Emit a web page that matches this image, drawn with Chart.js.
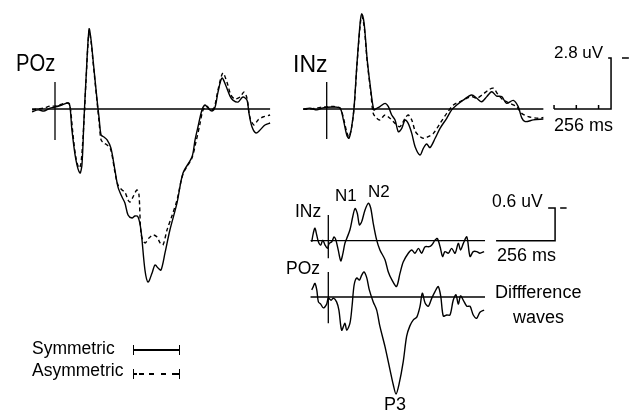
<!DOCTYPE html>
<html><head><meta charset="utf-8">
<script src="https://cdn.jsdelivr.net/npm/chart.js@4.4.1/dist/chart.umd.min.js"></script>
<style>
html,body{margin:0;padding:0;background:#fff;}
#wrap{position:relative;width:638px;height:419px;overflow:hidden;background:#fff;}
#c{position:absolute;left:0;top:0;}
.t{position:absolute;font-family:"Liberation Sans",Arial,sans-serif;line-height:1;color:#000;white-space:nowrap;}
.lg{position:absolute;height:10px;border-left:1.5px solid #000;border-right:1.5px solid #000;}
.lg i{position:absolute;left:0;right:0;top:4px;height:1.5px;background:#000;}
</style></head><body>
<div id="wrap">
<canvas id="c" width="638" height="419" style="width:638px;height:419px"></canvas>
<div class="t" style="left:16px;top:52px;font-size:23px;transform:scaleX(0.88);transform-origin:left top">POz</div>
<div class="t" style="left:293px;top:53px;font-size:23px">INz</div>
<div class="t" style="left:554px;top:44px;font-size:17px">2.8 uV</div>
<div class="t" style="left:554px;top:116px;font-size:18px">256 ms</div>
<div class="t" style="left:335px;top:187px;font-size:17px">N1</div>
<div class="t" style="left:368px;top:183px;font-size:17px">N2</div>
<div class="t" style="left:295px;top:203px;font-size:17.5px">INz</div>
<div class="t" style="left:286px;top:260px;font-size:17.5px">POz</div>
<div class="t" style="left:492px;top:193px;font-size:17.5px">0.6 uV</div>
<div class="t" style="left:497px;top:246px;font-size:18px">256 ms</div>
<div class="t" style="left:495px;top:283px;font-size:18px">Diffference</div>
<div class="t" style="left:513px;top:308px;font-size:18px">waves</div>
<div class="t" style="left:384px;top:395px;font-size:18px">P3</div>
<div class="t" style="left:32px;top:340px;font-size:17.5px">Symmetric</div>
<div class="t" style="left:32px;top:362px;font-size:17.5px">Asymmetric</div>
<div class="lg" style="left:133px;top:345px;width:45px"><i></i></div>
<div class="lg" style="left:133px;top:369px;width:45px"><i style="background:linear-gradient(to right,#000 0 3px,transparent 3px 5px,#000 5px 10px,transparent 10px 15px,#000 15px 20px,transparent 20px 27px,#000 27px 32px,transparent 32px 38px,#000 38px 45px)"></i></div>
</div>
<script>
// ---------- DATA (time in ms, amplitude in uV, negative plotted up) ----------
const pozSymT = [-103,-76,-49,-22,0,31,58,67,76,94,112,121,130,139,153,162,171,189,198,207,220,234,251,269,283,301,314,328,346,359,373,386,404,418,436,449,463,476,494,516,548,575,615,629,642,660,674,687,705,719,732,750,768,786,799,822,844,862,871,885,903,921,943,966];
const pozSymV = [0.16,0.05,0.11,-0.05,-0.11,-0.22,-0.33,-0.16,1.15,2.8,3.52,3.08,0.6,-1.59,-4.40,-3.79,-2.69,-0.49,0.49,1.43,1.54,1.70,2.14,3.35,4.29,4.84,5.16,5.82,5.99,5.88,5.93,6.65,8.85,9.51,9.01,8.57,8.74,8.85,7.91,6.65,5.16,3.52,2.64,1.70,0.99,0.05,-0.22,-0.05,0.11,-0.11,-0.93,-1.70,-1.26,-0.71,-0.49,-0.38,-0.66,-0.49,0.22,0.99,1.32,1.15,0.88,0.77];

const pozAsymT = [-103,-76,-49,-22,0,31,58,67,81,94,108,117,130,139,153,162,171,189,198,207,220,234,251,269,283,301,314,328,337,350,368,377,387,404,422,440,458,472,485,503,525,548,575,615,633,651,665,683,696,714,732,754,772,790,808,831,849,862,876,894,912,934,966];
const pozAsymV = [0.05,0,-0.05,-0.16,-0.16,-0.27,-0.33,-0.22,1.43,2.69,3.24,2.97,0.71,-1.48,-4.29,-3.68,-2.58,-0.38,0.71,1.70,1.87,1.98,2.25,3.46,4.18,4.45,4.56,5.0,5.11,4.84,4.45,4.7,6.9,7.36,7.09,6.92,7.03,7.36,7.47,6.65,5.88,5.0,3.57,2.69,1.81,0.82,0.05,-0.16,0.05,-0.05,-1.04,-1.98,-1.48,-0.77,-0.55,-0.66,-0.93,-0.60,0.49,0.88,0.60,0.44,0.33];

const inzSymT = [-105,-75,-44,-21,0,28,60,75,90,100,112,123,135,150,157,168,182,198,212,225,239,262,277,292,307,322,337,352,366,382,397,419,434,449,464,487,509,539,561,584,613,651,674,696,719,741,763,786,808,838,860,876,891,928,973];
const inzSymV = [0,-0.05,0.05,-0.05,-0.09,-0.11,-0.04,0.60,1.43,1.61,0.99,-0.11,-2.32,-4.71,-5.24,-4.71,-2.69,-1.04,0.05,-0.04,-0.13,-0.31,-0.13,0.33,0.60,1.25,1.06,0.60,0.79,1.34,2.07,2.53,2.16,1.92,2.12,1.61,1.06,0.51,0.05,-0.22,-0.49,-0.77,-0.59,-0.40,-0.68,-0.95,-0.71,-0.68,-0.31,-0.47,-0.13,0.49,0.69,0.60,0.55];

const inzAsymT = [-105,-75,-44,-21,0,28,60,75,90,100,112,123,135,150,157,168,182,198,209,225,239,262,284,307,329,352,366,382,397,411,434,456,479,509,539,569,598,629,651,674,703,726,748,771,793,823,853,876,905,950,973];
const inzAsymV = [0.02,0,-0.05,-0.11,-0.11,-0.14,-0.05,0.49,1.26,1.54,0.99,-0.05,-2.25,-4.56,-5.11,-4.56,-2.58,-0.93,0.24,0.51,0.60,0.33,0.51,0.79,0.97,0.51,0.33,0.60,1.21,1.43,1.61,1.52,1.34,0.79,0.24,-0.22,-0.40,-0.59,-0.68,-0.59,-0.82,-1.04,-1.14,-0.77,-0.49,-0.31,-0.13,0.24,0.42,0.51,0.47];

const diffInzT = [-72,-65,-58,-50,-43,-33,-24,-14,-4,4,15,25,33,43,54,62,72,80,94,106,116,126,135,145,159,174,184,195,210,224,246,260,276,296,311,325,347,362,376,391,405,420,438,449,463,473,485,496,506,521,535,550,564,574,586,601,615,629,644,658,676];
const diffInzV = [0.02,-0.14,-0.23,-0.10,0.02,0.08,-0.01,0.08,0.14,0.05,0.02,-0.07,-0.01,0.17,0.37,0.26,0.05,-0.04,-0.20,-0.44,-0.59,-0.50,-0.29,-0.35,-0.56,-0.69,-0.60,-0.32,-0.01,0.17,0.35,0.57,0.72,0.84,0.60,0.39,0.23,0.17,0.23,0.14,0.23,0.11,0.11,0.08,-0.01,-0.04,0.11,0.29,0.20,0.23,0.14,0.23,0.05,0.17,0.05,-0.07,0.29,0.20,0.20,0.23,0.20];

const diffPozT = [-72,-65,-58,-50,-43,-33,-22,-7,0,12,22,36,46,58,72,80,94,103,112,123,135,145,155,167,178,195,210,224,246,268,282,294,307,325,340,354,369,384,398,408,420,434,449,463,477,488,499,514,528,542,554,564,574,586,601,615,629,644,658,676];
const diffPozV = [-0.13,-0.19,-0.25,-0.13,0.09,0.13,0.20,0.13,0.02,0.06,0.02,0.09,0.24,0.61,0.48,0.61,0.48,0.17,-0.22,-0.35,-0.31,-0.40,-0.46,-0.35,-0.13,0.09,0.24,0.54,0.91,1.34,1.61,1.78,1.60,1.19,0.72,0.53,0.42,0.37,0.17,-0.07,0.11,0.17,0.02,-0.10,-0.19,-0.01,0.35,0.33,0.33,0.06,-0.04,0.13,-0.02,0.06,0.17,0.17,0.33,0.39,0.28,0.24];

// epoch limits (ms) of each baseline and onset marker extents (uV)
const pozEpoch = [-103, 966];
const inzEpoch = [-105, 973];
const diffEpoch = [-77, 680];
const pozOnset = [-1.48, 1.70];
const inzOnset = [-1.48, 1.65];
const diffInzOnset = [-0.47, 0.32];
const diffPozOnset = [-0.46, 0.48];

// calibration bars
const scaleBarMs = 256;
const scaleBarTicksMs = [0, 100, 200];
const scaleBarUv = 2.8;
const diffScaleBarUv = 0.6;

// ---------- LAYOUT (pixel anchors, not data) ----------
const W = 638, H = 419;
const L = {
  A: {x0: 55, y0: 109, msPerPx: 4.491, pxPerUv: 18.2},
  B: {x0: 326.7, y0: 109, msPerPx: 4.491, pxPerUv: 18.2},
  D1: {x0: 328.3, y0: 240.7, msPerPx: 4.339, pxPerUv: 54.5},
  D2: {x0: 328.3, y0: 297, msPerPx: 4.339, pxPerUv: 54.5}
};
const topBarStartMs = 1021, diffBarStartMs = 728;

function xScale(p){ return {type:'linear', display:false, bounds:'data', min:-p.x0*p.msPerPx, max:(W-p.x0)*p.msPerPx}; }
function yScale(p){ return {type:'linear', display:false, bounds:'data', reverse:true, min:-p.y0/p.pxPerUv, max:(H-p.y0)/p.pxPerUv}; }

const zip = (ts, vs) => ts.map((t,i)=>({x:t, y:vs[i]}));
function trace(ts, vs, xa, ya, dashed){
  return {data: zip(ts, vs), xAxisID: xa, yAxisID: ya, borderColor:'#000', borderWidth:1.4,
          borderDash: dashed ? [4,3] : [], tension:0.3, pointRadius:0, fill:false, showLine:true};
}
function seg(pts, xa, ya, w){
  return {data: pts, xAxisID: xa, yAxisID: ya, borderColor:'#000', borderWidth:w||1.3,
          tension:0, pointRadius:0, fill:false, showLine:true, spanGaps:false};
}
const gap = {x:null, y:null};

// top calibration bar (ms along x of panel B, uV along y)
const topEnd = topBarStartMs + scaleBarMs;
const topBar = [{x:topBarStartMs,y:0},{x:topEnd,y:0},{x:topEnd,y:-scaleBarUv},{x:topEnd-13,y:-scaleBarUv}, gap,
  {x:topEnd+49,y:-scaleBarUv},{x:topEnd+80,y:-scaleBarUv}];
scaleBarTicksMs.forEach(t=>{ topBar.push(gap,{x:topBarStartMs+t,y:0},{x:topBarStartMs+t,y:-0.22}); });
const diffEnd = diffBarStartMs + scaleBarMs;
const diffBar = [{x:diffBarStartMs,y:0},{x:diffEnd,y:0},{x:diffEnd,y:-diffScaleBarUv},{x:diffEnd-30,y:-diffScaleBarUv}, gap,
  {x:diffEnd+22,y:-diffScaleBarUv},{x:diffEnd+50,y:-diffScaleBarUv}];

const datasets = [
  seg([{x:pozEpoch[0],y:0},{x:pozEpoch[1],y:0}], 'xA','yA'),
  seg([{x:0,y:pozOnset[0]},{x:0,y:pozOnset[1]}], 'xA','yA'),
  trace(pozSymT, pozSymV, 'xA','yA', false),
  trace(pozAsymT, pozAsymV, 'xA','yA', true),
  seg([{x:inzEpoch[0],y:0},{x:inzEpoch[1],y:0}], 'xB','yB'),
  seg([{x:0,y:inzOnset[0]},{x:0,y:inzOnset[1]}], 'xB','yB'),
  trace(inzSymT, inzSymV, 'xB','yB', false),
  trace(inzAsymT, inzAsymV, 'xB','yB', true),
  seg(topBar, 'xB','yB', 1.5),
  seg([{x:diffEpoch[0],y:0},{x:diffEpoch[1],y:0}], 'xD','yD1'),
  seg([{x:0,y:diffInzOnset[0]},{x:0,y:diffInzOnset[1]}], 'xD','yD1'),
  trace(diffInzT, diffInzV, 'xD','yD1', false),
  seg(diffBar, 'xD','yD1', 1.5),
  seg([{x:diffEpoch[0],y:0},{x:diffEpoch[1],y:0}], 'xD','yD2'),
  seg([{x:0,y:diffPozOnset[0]},{x:0,y:diffPozOnset[1]}], 'xD','yD2'),
  trace(diffPozT, diffPozV, 'xD','yD2', false)
];

new Chart(document.getElementById('c'), {
  type: 'scatter',
  data: {datasets},
  options: {
    responsive:false, animation:false, maintainAspectRatio:false,
    layout:{padding:0},
    plugins:{legend:{display:false}, tooltip:{enabled:false}},
    scales:{
      xA: xScale(L.A), yA: yScale(L.A),
      xB: xScale(L.B), yB: yScale(L.B),
      xD: xScale(L.D1), yD1: yScale(L.D1), yD2: yScale(L.D2)
    }
  }
});
</script>
</body></html>
